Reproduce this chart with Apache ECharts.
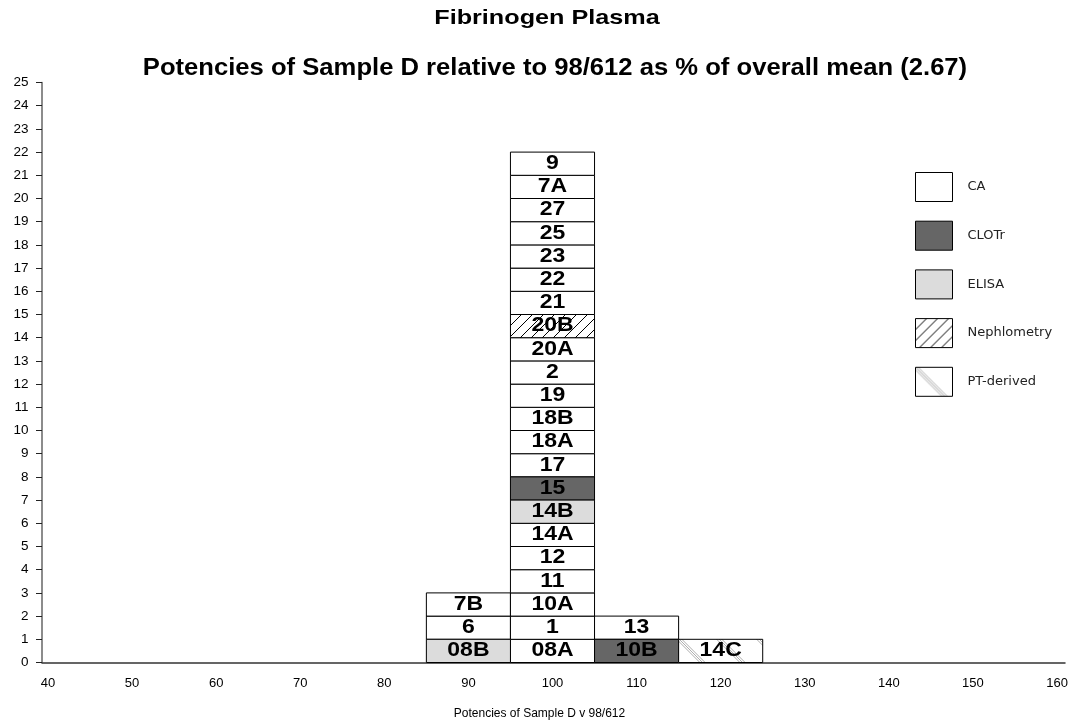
<!DOCTYPE html>
<html><head><meta charset="utf-8">
<script src="https://cdn.jsdelivr.net/npm/echarts@6/dist/echarts.min.js"></script>
<style>html,body{margin:0;padding:0;background:#fff}#c{width:1078px;height:721px}</style>
</head><body><div id="c"></div>
<script>
// Bin centres (potency %) and the stacked labs in each bin, bottom to top
const binCentres = [90, 100, 110, 120];
const binLabels = [
  ['08B','6','7B'],
  ['08A','1','10A','11','12','14A','14B','15','17','18A','18B','19','2','20A','20B','21','22','23','25','27','7A','9'],
  ['10B','13'],
  ['14C']
];
const binMethods = [
  ['ELISA','CA','CA'],
  ['CA','CA','CA','CA','CA','CA','ELISA','CLOTr','CA','CA','CA','CA','CA','CA','Nephlometry','CA','CA','CA','CA','CA','CA','CA'],
  ['CLOTr','CA'],
  ['PT-derived']
];
const methods = ['CA','CLOTr','ELISA','Nephlometry','PT-derived'];
const binWidth = 10;
const xTicks = [40,50,60,70,80,90,100,110,120,130,140,150,160];
const yMax = 25;
const titleMain = 'Fibrinogen Plasma';
const titleSub = 'Potencies of Sample D relative to 98/612 as % of overall mean (2.67)';
const xName = 'Potencies of Sample D v 98/612';

function makePattern(kind){
  const c = document.createElement('canvas');
  const ctx = c.getContext('2d');
  if (kind === 'neph'){
    const s = 11; c.width = s; c.height = s;
    ctx.fillStyle = '#fff'; ctx.fillRect(0,0,s,s);
    ctx.strokeStyle = '#000'; ctx.lineWidth = 1;
    ctx.beginPath();
    ctx.moveTo(-1, s+1); ctx.lineTo(s+1, -1);
    ctx.moveTo(-1, 1); ctx.lineTo(1, -1);
    ctx.moveTo(s-1, s+1); ctx.lineTo(s+1, s-1);
    ctx.stroke();
  } else {
    const s = 40; c.width = s; c.height = s;
    ctx.fillStyle = '#fff'; ctx.fillRect(0,0,s,s);
    ctx.strokeStyle = '#777'; ctx.lineWidth = 0.6;
    ctx.beginPath();
    for (const off of [-2.6, 0, 2.6]) {
      for (const sh of [-s, 0, s]) {
        ctx.moveTo(-2 + off + sh, -2);
        ctx.lineTo(s + 2 + off + sh, s + 2);
      }
    }
    ctx.stroke();
  }
  return {image: c, repeat: 'repeat'};
}

const fills = {
  'CA': '#ffffff',
  'CLOTr': '#666666',
  'ELISA': '#dcdcdc',
  'Nephlometry': makePattern('neph'),
  'PT-derived': makePattern('pt')
};

const series = methods.map(m => {
  const data = [];
  const labels = [];
  binCentres.forEach((c, i) => {
    binLabels[i].forEach((lab, lvl) => {
      if (binMethods[i][lvl] === m) { data.push([c, lvl]); labels.push(lab); }
    });
  });
  return {
    type: 'custom',
    name: m,
    coordinateSystem: 'cartesian2d',
    itemStyle: {color: fills[m], borderColor: '#000', borderWidth: 1},
    encode: {x: 0, y: 1},
    data: data,
    renderItem: function(params, api){
      const xc = api.value(0), lv = api.value(1);
      const p0 = api.coord([xc - binWidth/2, lv + 1]);
      const p1 = api.coord([xc + binWidth/2, lv]);
      return {
        type: 'group',
        children: [{
          type: 'rect',
          shape: {x: p0[0], y: p0[1], width: p1[0]-p0[0], height: p1[1]-p0[1]},
          style: {fill: fills[m], stroke: '#000', lineWidth: 1}
        },{
          type: 'text',
          x: (p0[0]+p1[0])/2, y: (p0[1]+p1[1])/2,
          scaleX: 1.18,
          style: {text: labels[params.dataIndex], fill: '#000', font: 'bold 19.5px "Liberation Sans", Arial, sans-serif',
                  align: 'center', verticalAlign: 'middle'}
        }]
      };
    }
  };
});

const chart = echarts.init(document.getElementById('c'), null, {renderer: 'canvas'});
chart.setOption({
  animation: false,
  backgroundColor: '#fff',
  graphic: [
    {type: 'text', x: 547, y: 18.7, scaleX: 1.2,
     style: {text: titleMain, font: 'bold 21px "Liberation Sans", Arial, sans-serif', fill: '#000', align: 'center', verticalAlign: 'middle'}},
    {type: 'text', x: 555, y: 68.3, scaleX: 1.09,
     style: {text: titleSub, font: 'bold 23.5px "Liberation Sans", Arial, sans-serif', fill: '#000', align: 'center', verticalAlign: 'middle'}}
  ],
  legend: {
    orient: 'vertical', left: 915, top: 172, padding: 0,
    itemWidth: 37, itemHeight: 29, itemGap: 18.7,
    icon: 'rect',
    data: methods,
    itemStyle: {borderColor: '#000', borderWidth: 1},
    textStyle: {fontFamily: '"DejaVu Sans", sans-serif', fontSize: 13, color: '#222', padding: [0,0,0,10]}
  },
  grid: {left: 42, right: 13, top: 82.5, bottom: 58.5, outerBoundsMode: 'none', containLabel: false},
  xAxis: {
    type: 'value', min: 39.29, max: 160.95,
    name: xName, nameLocation: 'middle', nameGap: 45,
    nameTextStyle: {fontFamily: '"Liberation Sans", Arial, sans-serif', fontSize: 12, color: '#000', padding: [0, 28, 0, 0]},
    axisLine: {lineStyle: {color: '#333', width: 1.5}},
    axisTick: {show: false},
    splitLine: {show: false},
    axisLabel: {customValues: xTicks, margin: 14, fontFamily: '"Liberation Sans", Arial, sans-serif', fontSize: 13, color: '#000'}
  },
  yAxis: {
    type: 'value', min: 0, max: yMax, interval: 1,
    axisLine: {show: true, lineStyle: {color: '#666', width: 1.5}},
    axisTick: {show: true, length: 6, lineStyle: {color: '#222'}},
    splitLine: {show: false},
    axisLabel: {margin: 13.5, fontFamily: '"Liberation Sans", Arial, sans-serif', fontSize: 13.5, color: '#000'}
  },
  series: series
});
</script></body></html>
